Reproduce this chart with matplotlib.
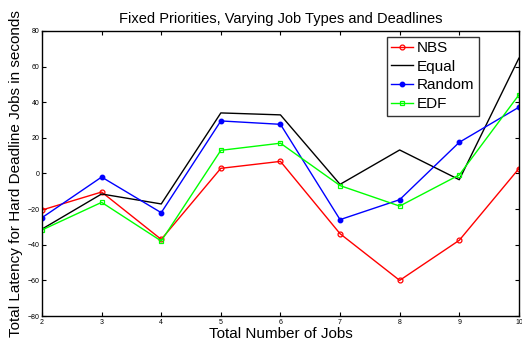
import matplotlib
matplotlib.use("Agg")
import matplotlib.pyplot as plt

plt.rcParams['font.family'] = ['Liberation Sans', 'DejaVu Sans']

jobs = [2, 3, 4, 5, 6, 7, 8, 9, 10]
nbs = [-20.5, -10.4, -37.0, 2.9, 6.8, -33.8, -60.0, -37.5, 2.7]
equal = [-31.2, -11.5, -17.1, 34.0, 32.9, -6.1, 13.2, -3.5, 64.7]
random_ = [-24.8, -2.0, -22.0, 29.5, 27.6, -25.9, -14.7, 17.5, 37.2]
edf = [-31.7, -16.2, -37.9, 13.0, 17.0, -6.8, -18.3, -0.8, 44.1]
yticks = [-80, -60, -40, -20, 0, 20, 40, 60, 80]

fig = plt.figure(figsize=(5.22, 3.43), dpi=100)
ax = fig.add_axes([0.0805, 0.0787, 0.9135, 0.831])

ax.plot(jobs, nbs, color='#ff0000', lw=1, marker='o', ms=3.5, mfc='none', mew=0.9, label='NBS')
ax.plot(jobs, equal, color='black', lw=1, label='Equal')
ax.plot(jobs, random_, color='#0000ff', lw=1, marker='o', ms=3.2, label='Random')
ax.plot(jobs, edf, color='#00ff00', lw=1, marker='s', ms=3.5, mfc='none', mew=0.9, label='EDF')

ax.set_xlim(2, 10)
ax.set_ylim(-80, 80)
ax.set_xticks(jobs)
ax.set_yticks(yticks)
ax.tick_params(direction='in', labelsize=5, top=True, right=True, length=3, width=0.8, pad=2)
for s in ax.spines.values():
    s.set_linewidth(1)

ax.set_title('Fixed Priorities, Varying Job Types and Deadlines', fontsize=10.5, pad=6)
ax.set_xlabel('Total Number of Jobs', fontsize=11, labelpad=1)
ax.set_ylabel('Total Latency for Hard Deadline Jobs in seconds', fontsize=11, labelpad=3)

leg = ax.legend(loc='upper right', bbox_to_anchor=(0.917, 0.98), fontsize=11, frameon=True,
                fancybox=False, edgecolor='black', handlelength=1.45, handletextpad=0.25,
                borderpad=0.3, labelspacing=0.3, borderaxespad=0)
leg.get_frame().set_linewidth(1)

fig.savefig('out.png', dpi=100)
